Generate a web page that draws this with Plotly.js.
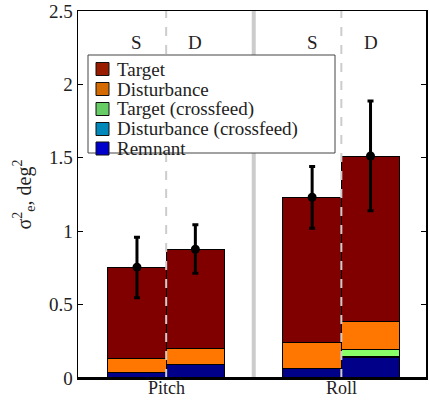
<!DOCTYPE html>
<html>
<head>
<meta charset="utf-8">
<script src="https://cdn.plot.ly/plotly-3.0.1.min.js"></script>
<style>html,body{margin:0;padding:0;background:#fff;}#chart{width:430px;height:401px;}</style>
</head>
<body>
<div id="chart"></div>
<script>
// Positions of the four bars (Pitch S, Pitch D, Roll S, Roll D)
const barPos = [1, 2, 4, 5];
const conditionLabels = ['S', 'D', 'S', 'D'];
const groupTickPos = [1.5, 4.5];
const groupLabels = ['Pitch', 'Roll'];

// Stacked components (deg^2)
const remnant = [0.036, 0.089, 0.063, 0.138];
const disturbanceCrossfeed = [0, 0, 0, 0.007];
const targetCrossfeed = [0, 0, 0, 0.05];
const disturbance = [0.098, 0.111, 0.18, 0.189];
const target = [0.62, 0.677, 0.988, 1.128];

// Mean total and error range
const meanTotal = [0.755, 0.877, 1.231, 1.512];
const upper = [0.958, 1.044, 1.44, 1.887];
const lower = [0.547, 0.713, 1.02, 1.14];

// Legend entries (top to bottom)
const legendLabels = ['Target', 'Disturbance', 'Target (crossfeed)', 'Disturbance (crossfeed)', 'Remnant'];
const legendSwatchColors = ['#9a1c00', '#d46a00', '#66cc66', '#0088bb', '#0000cc'];

const FONT = '"Liberation Serif", serif';
const TXT = '#222';

const barColors = {
  target: '#800000', disturbance: '#ff7700', tcross: '#88ff66', dcross: '#0a6f86', remnant: '#000088'
};

function stackBar(y, color) {
  return {
    type: 'bar', x: barPos, y: y, width: 1, showlegend: false, hoverinfo: 'skip',
    marker: {color: color, line: {color: '#000', width: 1}}
  };
}

const traces = [
  stackBar(remnant, barColors.remnant),
  stackBar(disturbanceCrossfeed, barColors.dcross),
  stackBar(targetCrossfeed, barColors.tcross),
  stackBar(disturbance, barColors.disturbance),
  stackBar(target, barColors.target),
  {
    type: 'scatter', mode: 'markers', x: barPos, y: meanTotal, showlegend: false,
    marker: {color: '#000', size: 9},
    error_y: {
      type: 'data', symmetric: false,
      array: upper.map((u, i) => u - meanTotal[i]),
      arrayminus: meanTotal.map((m, i) => m - lower[i]),
      color: '#000', thickness: 3, width: 3
    }
  }
];

// plot area in pixels: x 78..426, y 11..378
const PX = (px) => (px - 78) / 348;
const PY = (py) => (378 - py) / 367;

const annotations = barPos.map((x, i) => ({
  x: x, y: PY(30), xref: 'x', yref: 'paper', text: conditionLabels[i], showarrow: false,
  font: {family: FONT, size: 19, color: TXT}
}));

// group labels under the axis
groupLabels.forEach((lab, i) => {
  annotations.push({x: groupTickPos[i], y: PY(400), xref: 'x', yref: 'paper', yanchor: 'bottom',
    text: lab, showarrow: false, font: {family: FONT, size: 18, color: TXT}});
});

const shapes = [
  {type: 'line', xref: 'x', yref: 'paper', x0: 3, x1: 3, y0: 0, y1: 1, line: {color: '#cccccc', width: 4}, layer: 'above'},
  {type: 'line', xref: 'x', yref: 'paper', x0: 1.5, x1: 1.5, y0: 0, y1: 1, line: {color: '#cccccc', width: 2, dash: 'dash'}, layer: 'above'},
  {type: 'line', xref: 'x', yref: 'paper', x0: 4.5, x1: 4.5, y0: 0, y1: 1, line: {color: '#cccccc', width: 2, dash: 'dash'}, layer: 'above'},
  {type: 'line', xref: 'paper', yref: 'paper', x0: 0, x1: 1, y0: 0, y1: 0, line: {color: '#000', width: 2}, layer: 'above'},
  // legend box
  {type: 'rect', xref: 'paper', yref: 'paper', x0: PX(88), x1: PX(335), y0: PY(153), y1: PY(55),
   fillcolor: '#fff', line: {color: '#444', width: 1}, layer: 'above'}
];

const rowY = [69, 89, 109, 129, 148.5];
legendLabels.forEach((lab, i) => {
  shapes.push({type: 'rect', xref: 'paper', yref: 'paper',
    x0: PX(96), x1: PX(109), y0: PY(rowY[i] + 6.5), y1: PY(rowY[i] - 6.5),
    fillcolor: legendSwatchColors[i], line: {color: '#111', width: 1}, layer: 'above'});
  annotations.push({x: PX(115), y: PY(rowY[i]), xref: 'paper', yref: 'paper', xanchor: 'left', yanchor: 'middle',
    text: lab, showarrow: false, font: {family: FONT, size: 19, color: TXT}});
});

const layout = {
  width: 430, height: 401,
  margin: {l: 78, r: 4, t: 11, b: 23},
  paper_bgcolor: '#fff', plot_bgcolor: '#fff',
  barmode: 'stack', bargap: 0, showlegend: false,
  font: {family: FONT, size: 19, color: TXT},
  xaxis: {
    range: [-0.01, 5.95], tickvals: groupTickPos, showticklabels: false, ticks: '',
    showline: true, linecolor: '#000', linewidth: 1.5, mirror: true, showgrid: false, zeroline: false
  },
  yaxis: {
    range: [0, 2.5], dtick: 0.5, ticks: 'inside', ticklen: 5, tickcolor: '#000',
    showline: true, linecolor: '#000', linewidth: 1.5, mirror: 'ticks', showgrid: false, zeroline: false,
    tickfont: {family: FONT, size: 19, color: TXT},
    title: {text: 'σ<sup>2</sup><sub>e</sub>, deg<sup>2</sup>', font: {family: FONT, size: 20, color: TXT}, standoff: 12}
  },
  annotations: annotations,
  shapes: shapes
};

Plotly.newPlot('chart', traces, layout, {displayModeBar: false, staticPlot: true});
</script>
</body>
</html>
